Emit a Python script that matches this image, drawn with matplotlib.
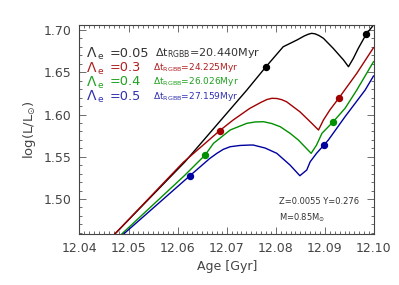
import matplotlib
matplotlib.use("Agg")
import matplotlib.pyplot as plt
from matplotlib.ticker import MultipleLocator

plt.rcParams['font.family'] = ['DejaVu Sans']
plt.rcParams['mathtext.default'] = 'regular'

# ---- data ----
black_x = [12.0472, 12.0615, 12.0741, 12.0779, 12.0815, 12.0843, 12.0858, 12.0866,
           12.0873, 12.0880, 12.0888, 12.0897, 12.0917, 12.0938, 12.0948, 12.0958,
           12.0968, 12.0984, 12.0999]
black_y = [1.4586, 1.5441, 1.6290, 1.6559, 1.6802, 1.6882, 1.6930, 1.6950,
           1.6961, 1.6955, 1.6935, 1.6902, 1.6783, 1.6645, 1.6566, 1.6665,
           1.6783, 1.6949, 1.7059]
red_x = [12.0472, 12.0611, 12.0686, 12.0713, 12.0747, 12.0770, 12.0782, 12.0792,
         12.0802, 12.0812, 12.0822, 12.0849, 12.0870, 12.0887, 12.0897, 12.0910,
         12.0929, 12.0965, 12.0999]
red_y = [1.4586, 1.5432, 1.5811, 1.5935, 1.6073, 1.6145, 1.6178, 1.6192,
         1.6190, 1.6176, 1.6151, 1.6033, 1.5915, 1.5817, 1.5935, 1.6053,
         1.6199, 1.6488, 1.6791]
green_x = [12.0486, 12.0615, 12.0656, 12.0673, 12.0707, 12.0741, 12.0758, 12.0775,
           12.0792, 12.0809, 12.0829, 12.0846, 12.0872, 12.0883, 12.0894, 12.0917,
           12.0941, 12.0965, 12.0999]
green_y = [1.4586, 1.5284, 1.5521, 1.5659, 1.5817, 1.5896, 1.5912, 1.5915,
           1.5893, 1.5856, 1.5778, 1.5698, 1.5541, 1.5639, 1.5778, 1.5915,
           1.6073, 1.6290, 1.6625]
blue_x = [12.0490, 12.0615, 12.0625, 12.0646, 12.0665, 12.0680, 12.0693, 12.0707,
          12.0727, 12.0747, 12.0754, 12.0778, 12.0802, 12.0829, 12.0849, 12.0863,
          12.0870, 12.0883, 12.0898, 12.0907, 12.0941, 12.0982, 12.0999]
blue_y = [1.4586, 1.5225, 1.5276, 1.5382, 1.5478, 1.5541, 1.5588, 1.5619,
          1.5634, 1.5639, 1.5639, 1.5604, 1.5541, 1.5402, 1.5276, 1.5343,
          1.5441, 1.5541, 1.5639, 1.5698, 1.5974, 1.6290, 1.6456]

# marked points (x, y) on each track
black_dots_x = [12.0779, 12.0984]
black_dots_y = [1.6559, 1.6949]
red_dots_x = [12.0686, 12.0929]
red_dots_y = [1.5811, 1.6199]
green_dots_x = [12.0656, 12.0917]
green_dots_y = [1.5521, 1.5915]
blue_dots_x = [12.0625, 12.0898]
blue_dots_y = [1.5276, 1.5639]

lambdas = ["0.05", "0.3", "0.4", "0.5"]
dt_rgbb = ["20.440", "24.225", "26.026", "27.159"]

line_colors = ['#000000', '#a00000', '#009000', '#0000a0']
text_colors = ['#333333', '#b02020', '#20a020', '#3030b0']

fig = plt.figure(figsize=(3.99, 2.85), dpi=100)
ax = fig.add_axes([0.1992, 0.1789, 0.7381, 0.7323])

tracks = [(black_x, black_y, black_dots_x, black_dots_y),
          (red_x, red_y, red_dots_x, red_dots_y),
          (green_x, green_y, green_dots_x, green_dots_y),
          (blue_x, blue_y, blue_dots_x, blue_dots_y)]
for (xs, ys, dx, dy), c in zip(tracks, line_colors):
    ax.plot(xs, ys, color=c, lw=1.0, solid_joinstyle='round')
    ax.plot(dx, dy, 'o', color=c, ms=4.3, mec=c)

ax.set_xlim(12.04, 12.10)
ax.set_ylim(1.4586, 1.7056)
ax.xaxis.set_major_locator(MultipleLocator(0.01))
ax.xaxis.set_minor_locator(MultipleLocator(0.001))
ax.yaxis.set_major_locator(MultipleLocator(0.05))
ax.yaxis.set_minor_locator(MultipleLocator(0.01))
ax.xaxis.set_major_formatter(plt.FuncFormatter(lambda v, p: f"{v:.2f}"))
ax.yaxis.set_major_formatter(plt.FuncFormatter(lambda v, p: f"{v:.2f}"))
ax.tick_params(which='both', direction='in', top=True, right=True,
               colors='#555555', labelcolor='#444444', labelsize=9, width=0.6)
ax.tick_params(which='major', length=5, pad=6)
ax.tick_params(which='minor', length=2.5)
for s in ax.spines.values():
    s.set_color('#444444')
    s.set_linewidth(0.8)

ax.set_xlabel("Age [Gyr]", fontsize=9, color='#444444', labelpad=3)
ax.set_ylabel(r"log(L/L$_{\odot}$)", fontsize=9.5, color='#444444', labelpad=4)

W, H = 399.0, 285.0
rows_y = [53.2, 67.5, 81.5, 96.2]
dt_x = [155, 153, 153, 153]
dt_fs = [8.0, 6.5, 6.5, 6.5]
for i in range(4):
    yy = 1 - rows_y[i] / H
    fig.text(87.3 / W, yy, "\u039b", fontsize=10, color=text_colors[i], va='center', ha='left')
    fig.text(97.5 / W, 1 - (rows_y[i] + 3.5) / H, "e", fontsize=6.5, color=text_colors[i],
             va='center', ha='left')
    fig.text(110 / W, yy, "=" + lambdas[i], fontsize=9.3, color=text_colors[i], va='center', ha='left')
    fig.text(dt_x[i] / W, yy, r"$\Delta$t$_{RGBB}$=" + dt_rgbb[i] + "Myr", fontsize=dt_fs[i],
             color=text_colors[i], va='center', ha='left')

fig.text(279 / W, 1 - 202 / H, "Z=0.0055 Y=0.276", fontsize=6, color='#333333', va='center', ha='left')
fig.text(279 / W, 1 - 218 / H, r"M=0.85M$_{\odot}$", fontsize=6, color='#333333', va='center', ha='left')

fig.savefig("out.png", dpi=100)
